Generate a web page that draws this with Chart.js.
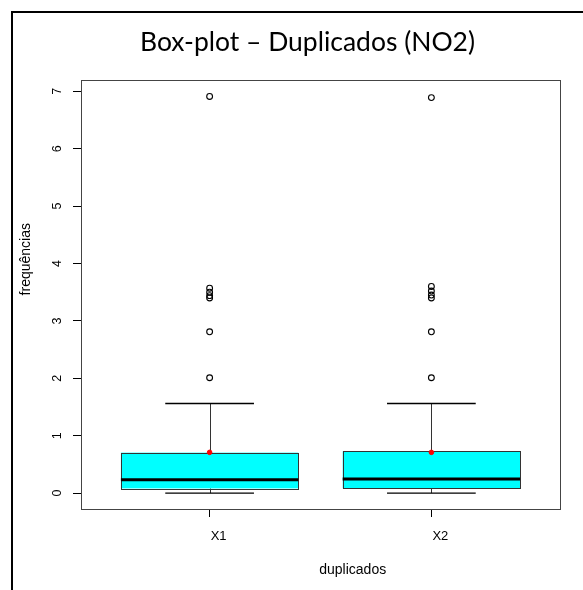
<!DOCTYPE html>
<html><head><meta charset="utf-8">
<script src="https://cdn.jsdelivr.net/npm/chart.js@4/dist/chart.umd.min.js"></script>
<style>html,body{margin:0;padding:0;background:#fff;}#wrap{width:583px;height:590px;position:relative;}</style>
</head><body><div id="wrap"><canvas id="c" width="583" height="590"></canvas></div>
<script>
// ---- data ----
const categories = ['X1', 'X2'];
const categoryPositions = [1, 2];
const lowerWhisker = [0, 0];
const q1 = [0.082, 0.082];
const median = [0.234, 0.244];
const q3 = [0.705, 0.728];
const upperWhisker = [1.56, 1.56];
const means = [0.71, 0.71];
const outliersX1 = [2.01, 2.81, 3.40, 3.44, 3.50, 3.57, 6.91];
const outliersX2 = [2.01, 2.81, 3.40, 3.45, 3.52, 3.60, 6.89];
const yTickValues = [0, 1, 2, 3, 4, 5, 6, 7];
const yRange = [-0.2768, 7.1968];
const xRange = [0.42, 2.58];
const titleText = 'Box-plot \u2013 Duplicados (NO2)';
const xAxisTitle = 'duplicados';
const yAxisTitle = 'frequ\u00eancias';

const outlierSets = [outliersX1, outliersX2];
const outlierPoints = [];
outlierSets.forEach((arr, i) => arr.forEach(v => outlierPoints.push({x: categoryPositions[i], y: v})));
const meanPoints = means.map((v, i) => ({x: categoryPositions[i], y: v}));

const BOX_HALF = 0.4, CAP_HALF = 0.2;

const boxPlugin = {
  id: 'boxes',
  beforeDatasetsDraw(chart) {
    const ctx = chart.ctx, xs = chart.scales.x, ys = chart.scales.y;
    ctx.save();
    categoryPositions.forEach((pos, i) => {
      const cx = xs.getPixelForValue(pos);
      const bl = xs.getPixelForValue(pos - BOX_HALF), br = xs.getPixelForValue(pos + BOX_HALF);
      const cl = xs.getPixelForValue(pos - CAP_HALF), cr = xs.getPixelForValue(pos + CAP_HALF);
      const yLo = ys.getPixelForValue(lowerWhisker[i]), yQ1 = ys.getPixelForValue(q1[i]);
      const yMed = ys.getPixelForValue(median[i]), yQ3 = ys.getPixelForValue(q3[i]);
      const yHi = ys.getPixelForValue(upperWhisker[i]);
      // whiskers
      ctx.strokeStyle = '#333'; ctx.lineWidth = 1;
      ctx.beginPath();
      ctx.moveTo(Math.round(cx) + 0.5, yQ3); ctx.lineTo(Math.round(cx) + 0.5, yHi);
      ctx.moveTo(Math.round(cx) + 0.5, yQ1); ctx.lineTo(Math.round(cx) + 0.5, yLo);
      ctx.stroke();
      // caps
      ctx.strokeStyle = '#000'; ctx.lineWidth = 1.4;
      ctx.beginPath();
      ctx.moveTo(cl, yHi); ctx.lineTo(cr, yHi);
      ctx.moveTo(cl, yLo); ctx.lineTo(cr, yLo);
      ctx.stroke();
      // box
      ctx.fillStyle = '#00FFFF';
      ctx.fillRect(bl, yQ3, br - bl, yQ1 - yQ3);
      ctx.strokeStyle = '#333'; ctx.lineWidth = 1;
      ctx.strokeRect(Math.round(bl) + 0.5, Math.round(yQ3) + 0.5, Math.round(br - bl), Math.round(yQ1 - yQ3));
      // median
      ctx.strokeStyle = '#000'; ctx.lineWidth = 3;
      ctx.beginPath(); ctx.moveTo(bl, yMed); ctx.lineTo(br, yMed); ctx.stroke();
    });
    ctx.restore();
  },
  afterDraw(chart) {
    const ctx = chart.ctx, a = chart.chartArea;
    ctx.save();
    // plot frame
    ctx.strokeStyle = '#444'; ctx.lineWidth = 1;
    ctx.strokeRect(Math.round(a.left) + 0.5, Math.round(a.top) + 0.5, Math.round(a.right - a.left), Math.round(a.bottom - a.top));
    // outer border
    ctx.strokeStyle = '#000'; ctx.lineWidth = 2;
    ctx.beginPath(); ctx.moveTo(12, 590); ctx.lineTo(12, 12); ctx.lineTo(583, 12); ctx.stroke();
    // title
    ctx.fillStyle = '#000';
    ctx.font = '27px Lato';
    const w = ctx.measureText(titleText).width;
    const size = 27 * 335 / w;
    ctx.font = size.toFixed(2) + 'px Lato';
    ctx.textAlign = 'left'; ctx.textBaseline = 'alphabetic';
    ctx.fillText(titleText, 140, 50.5);
    // axis titles
    ctx.font = '14px "Liberation Sans"';
    ctx.textAlign = 'center';
    ctx.fillText(xAxisTitle, 352.7, 573.5);
    ctx.translate(29.7, 259.2); ctx.rotate(-Math.PI / 2);
    ctx.fillText(yAxisTitle, 0, 0);
    ctx.restore();
  }
};

new Chart(document.getElementById('c'), {
  type: 'scatter',
  data: {
    datasets: [
      { label: 'outliers', data: outlierPoints, pointStyle: 'circle', pointRadius: 2.9, pointBorderWidth: 1.1,
        pointBorderColor: '#000', pointBackgroundColor: 'rgba(0,0,0,0)' },
      { label: 'mean', data: meanPoints, pointStyle: 'circle', pointRadius: 2.3, pointBorderWidth: 1,
        pointBorderColor: '#ff0000', pointBackgroundColor: '#ff0000' }
    ]
  },
  options: {
    responsive: false, animation: false, devicePixelRatio: 1,
    layout: { padding: { top: 80, right: 23, bottom: 0, left: 0 } },
    plugins: { legend: { display: false }, title: { display: false }, tooltip: { enabled: false } },
    scales: {
      x: {
        type: 'linear', min: xRange[0], max: xRange[1],
        afterBuildTicks: s => { s.ticks = categoryPositions.map(v => ({value: v})); },
        afterFit: s => { s.height = 81; },
        ticks: { callback: (v, i) => categories[i], font: { family: 'Liberation Sans', size: 13 }, color: '#000',
                 padding: 12, labelOffset: 9, maxRotation: 0, autoSkip: false },
        grid: { display: true, drawOnChartArea: false, drawTicks: true, tickLength: 8, color: '#000', lineWidth: 1 },
        border: { display: false }
      },
      y: {
        type: 'linear', min: yRange[0], max: yRange[1],
        afterBuildTicks: s => { s.ticks = yTickValues.map(v => ({value: v})); },
        afterFit: s => { s.width = 81; },
        ticks: { font: { family: 'Liberation Sans', size: 12.5 }, color: '#000', padding: 12,
                 minRotation: 90, maxRotation: 90, crossAlign: 'center', autoSkip: false },
        grid: { display: true, drawOnChartArea: false, drawTicks: true, tickLength: 8, color: '#000', lineWidth: 1 },
        border: { display: false }
      }
    }
  },
  plugins: [boxPlugin]
});
</script></body></html>
